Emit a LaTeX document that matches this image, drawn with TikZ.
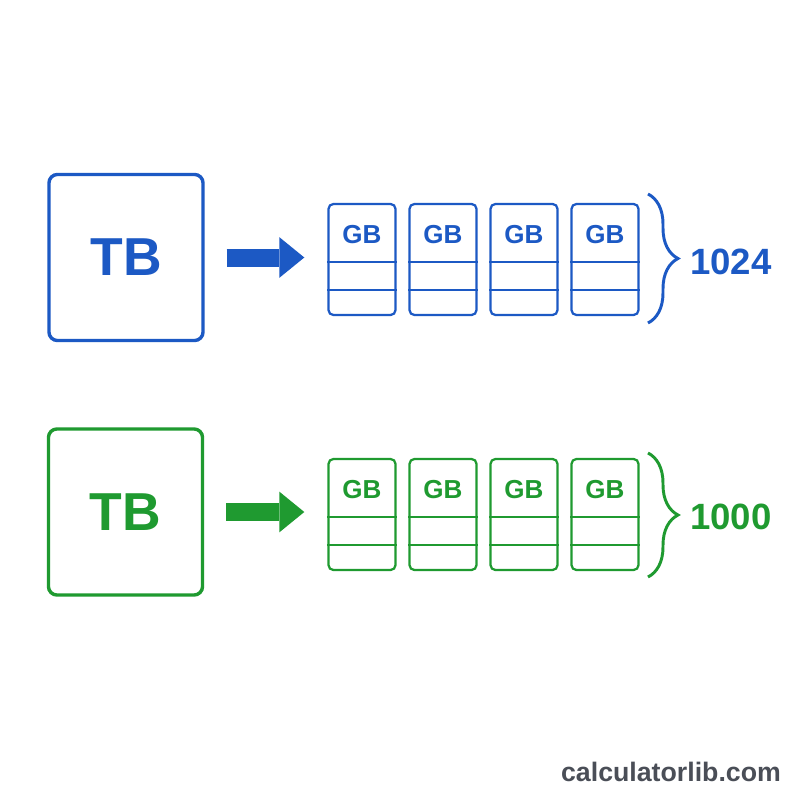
\documentclass[tikz,border=0pt]{standalone}
\usepackage{fontspec}
\setmainfont{Liberation Sans}
\usetikzlibrary{arrows.meta,positioning,decorations.pathreplacing}
\definecolor{binblue}{HTML}{1C59C4}
\definecolor{decgreen}{HTML}{1F9A30}
\definecolor{footgray}{HTML}{4A4E57}

\tikzset{
  tbbox/.style={draw, line width=2.4pt, rounded corners=6pt, minimum width=3.85cm,
    minimum height=4.15cm, font=\bfseries\fontsize{38}{38}\selectfont},
  gbcard/.style={draw, line width=1.6pt, rounded corners=3.5pt, minimum width=1.675cm,
    minimum height=2.775cm, inner sep=0pt},
  gbtext/.style={font=\bfseries\fontsize{18.5}{18.5}\selectfont, inner sep=0pt},
  fatarrow/.style={line width=12.8pt, shorten <=15.6pt, shorten >=16.4pt,
    -{Triangle[length=17.8pt,width=29pt,line width=0pt]}},
  countbrace/.style={line width=2.1pt, decorate, decoration={brace, amplitude=0.75cm}},
  countlabel/.style={anchor=west, inner sep=0pt, font=\bfseries\fontsize{26}{26}\selectfont}
}

\begin{document}
\begin{tikzpicture}[x=0.025cm, y=-0.025cm]
        \useasboundingbox[fill=white] (0,0) rectangle (800,800);

        % the two TB boxes
        \node[tbbox, binblue] (tbA) at (126,257.5) {TB};
        \node[tbbox, decgreen] (tbB) at (125.5,512) {TB};

        % the GB cards, four per row
        \foreach \row/\col/\yc in {A/binblue/259.5, B/decgreen/514.5}{
          \foreach \i in {1,...,4}{
            \node[gbcard, \col] (gb\row\i) at (281+81*\i,\yc) {};
            \node[gbtext, \col] (gbt\row\i) at ([yshift=-0.8cm]gb\row\i.north) {GB};
            \draw[\col, line width=1.6pt] ([yshift=1.35cm]gb\row\i.south west) -- ([yshift=1.35cm]gb\row\i.south east);
            \draw[\col, line width=1.6pt] ([yshift=0.65cm]gb\row\i.south west) -- ([yshift=0.65cm]gb\row\i.south east);
          }
        }

        \draw[fatarrow, binblue] (tbA.east) -- (tbA.east -| gbA1.west);
        \draw[fatarrow, decgreen] (tbB.east) -- (tbB.east -| gbB1.west);

        % braces and counts
        \coordinate (brA1) at (648,194);
        \coordinate (brA2) at (648,323);
        \coordinate (brB1) at (648,453);
        \coordinate (brB2) at (648,577);
        \draw[countbrace, binblue] (brA1) -- (brA2);
        \draw[countbrace, decgreen] (brB1) -- (brB2);
        \node[countlabel, binblue] (numA) at (690,262) {1024};
        \node[countlabel, decgreen] (numB) at (690,517) {1000};

        \node[footgray, font=\bfseries\fontsize{19}{19}\selectfont] (site) at (671,772) {calculatorlib.com};
    \end{tikzpicture}
\end{document}
